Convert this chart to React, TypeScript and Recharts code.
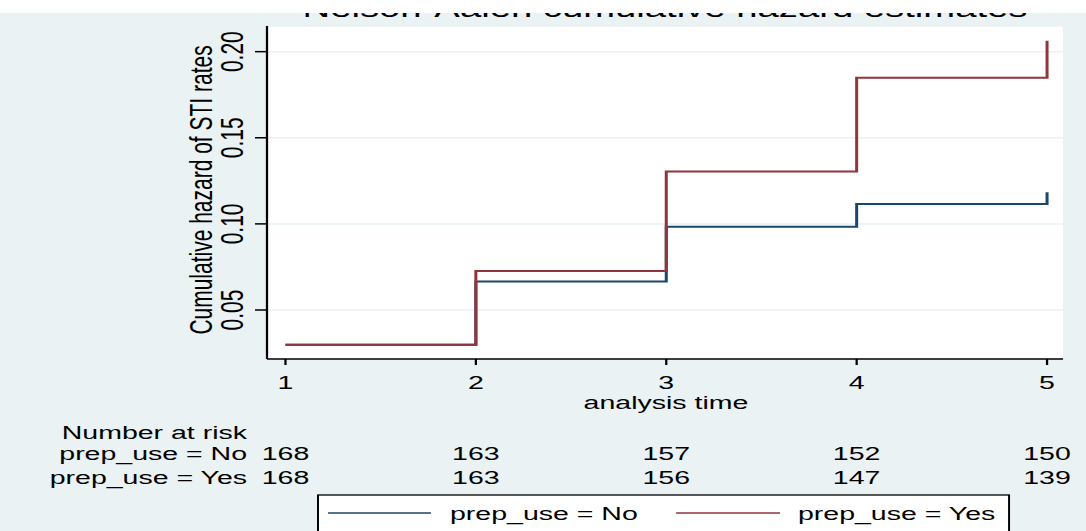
import { LineChart, Line, XAxis, YAxis, CartesianGrid, Customized } from 'recharts'

// analysis time points and Nelson-Aalen estimates
const times = [1, 2, 3, 4, 5]
const hazardNo = [0.0298, 0.0666, 0.0984, 0.1116, 0.1183]
const hazardYes = [0.0298, 0.0727, 0.1304, 0.1848, 0.2064]
const atRiskNo = [168, 163, 157, 152, 150]
const atRiskYes = [168, 163, 156, 147, 139]
const yTicks = [0.05, 0.1, 0.15, 0.2]
const groupLabels = ['prep_use = No', 'prep_use = Yes']
const groupColors = ['#1a476f', '#90353b']

const data = times.map((t, i) => ({ t, no: hazardNo[i], yes: hazardYes[i] }))

// the source image is stretched sideways, so the chart is drawn narrow and scaled
const STRETCH = 1.5
const W = 724
const H = 518
const TOP = 13
const FONT = '"Liberation Sans", Arial, sans-serif'
const BG = '#eaf2f3'
const PLOT_LEFT = 178
const PLOT_RIGHT = 708.7
const PLOT_MID = (PLOT_LEFT + PLOT_RIGHT) / 2
const LABEL_RIGHT = 164.7

function TimeTick({ x, y, payload }: any) {
  const i = times.indexOf(payload.value)
  const common = { x, textAnchor: 'middle' as const, dominantBaseline: 'central' as const, fontSize: 19, fill: '#000', fontFamily: FONT }
  return (
    <g>
      <text {...common} y={y + 17}>{payload.value}</text>
      <text {...common} y={y + 88}>{atRiskNo[i]}</text>
      <text {...common} y={y + 112}>{atRiskYes[i]}</text>
    </g>
  )
}

function HazardTick({ x, y, payload }: any) {
  const cx = x - 15.3
  return (
    <text
      x={cx}
      y={y}
      transform={`rotate(-90, ${cx}, ${y})`}
      textAnchor="middle"
      dominantBaseline="central"
      fontSize={21}
      fill="#000"
      fontFamily={FONT}
    >
      {payload.value.toFixed(2)}
    </text>
  )
}

function Annotations() {
  const txt = { fontSize: 19, fill: '#000', fontFamily: FONT, dominantBaseline: 'central' as const }
  return (
    <g>
      {/* title is cropped at the top in the source */}
      <text x={PLOT_MID} y={3.5} textAnchor="middle" fontSize={25.5} fill="#000" fontFamily={FONT}>
        Nelson-Aalen cumulative hazard estimates
      </text>
      <text
        x={134}
        y={177}
        transform="rotate(-90, 134, 177)"
        textAnchor="middle"
        dominantBaseline="central"
        fontSize={21}
        fill="#000"
        fontFamily={FONT}
      >
        Cumulative hazard of STI rates
      </text>
      <text {...txt} x={444} y={389.5} textAnchor="middle">analysis time</text>
      <text {...txt} x={LABEL_RIGHT} y={419} textAnchor="end">Number at risk</text>
      <text {...txt} x={LABEL_RIGHT} y={440} textAnchor="end">{groupLabels[0]}</text>
      <text {...txt} x={LABEL_RIGHT} y={464} textAnchor="end">{groupLabels[1]}</text>

      <rect x={212} y={482} width={460.7} height={60} fill="#fff" stroke="#000" strokeWidth={1.3} />
      <line x1={218.7} x2={287.3} y1={500} y2={500} stroke={groupColors[0]} strokeWidth={1.5} />
      <text {...txt} x={300} y={500}>{groupLabels[0]}</text>
      <line x1={450.7} x2={520} y1={500} y2={500} stroke={groupColors[1]} strokeWidth={1.5} />
      <text {...txt} x={532} y={500}>{groupLabels[1]}</text>
    </g>
  )
}

export default function App() {
  return (
    <>
      <div
        style={{
          position: 'absolute',
          top: TOP,
          left: 0,
          width: W,
          height: H,
          overflow: 'hidden',
          background: BG,
          transform: `scaleX(${STRETCH})`,
          transformOrigin: '0 0',
        }}
      >
        <LineChart width={W} height={H} data={data} margin={{ top: 13, right: W - PLOT_RIGHT, bottom: 0, left: 0 }}>
          <CartesianGrid vertical={false} fill="#fff" stroke={BG} strokeWidth={1.5} />
          <XAxis
            dataKey="t"
            type="number"
            domain={[0.903, 5.084]}
            ticks={times}
            height={172}
            tickSize={6}
            tickMargin={0}
            stroke="#000"
            strokeWidth={1.5}
            tick={<TimeTick />}
            interval={0}
          />
          <YAxis
            type="number"
            domain={[0.02155, 0.2149]}
            ticks={yTicks}
            width={PLOT_LEFT}
            tickSize={8}
            tickMargin={0}
            stroke="#000"
            strokeWidth={1.5}
            tick={<HazardTick />}
            interval={0}
            allowDataOverflow
          />
          <Line
            type="stepAfter"
            dataKey="no"
            stroke={groupColors[0]}
            strokeWidth={2}
            dot={false}
            isAnimationActive={false}
          />
          <Line
            type="stepAfter"
            dataKey="yes"
            stroke={groupColors[1]}
            strokeWidth={2}
            dot={false}
            isAnimationActive={false}
          />
          <Customized component={Annotations} />
        </LineChart>
      </div>
      {/* white strip where the source image was cropped */}
      <div style={{ position: 'absolute', top: 0, left: 0, width: W * STRETCH, height: TOP, background: '#fff', zIndex: 2 }} />
    </>
  )
}
